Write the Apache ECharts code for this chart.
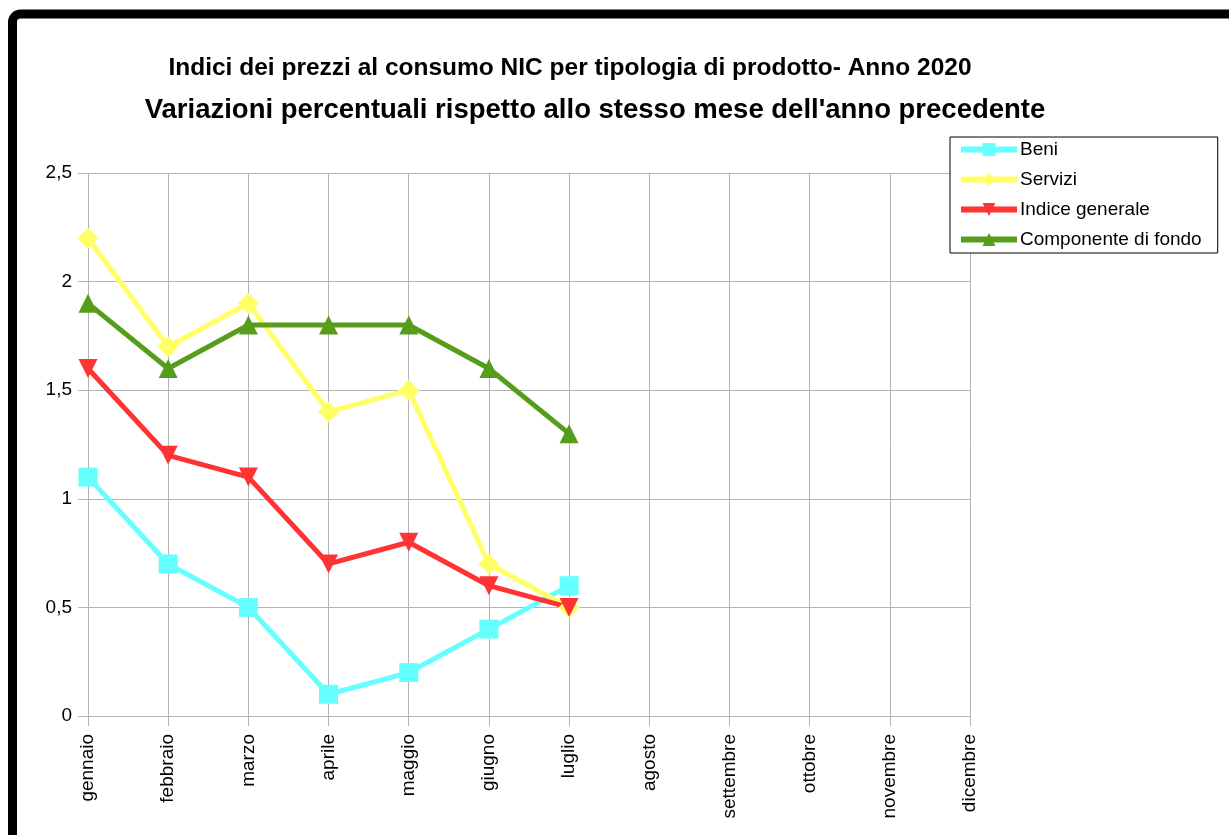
<!DOCTYPE html>
<html>
<head>
<meta charset="utf-8">
<script src="https://cdn.jsdelivr.net/npm/echarts@6/dist/echarts.min.js"></script>
<style>
  html, body { margin: 0; padding: 0; background: #fff; }
  #main { width: 1229px; height: 835px; }
</style>
</head>
<body>
<div id="main"></div>
<script>
var chartDom = document.getElementById('main');
var myChart = echarts.init(chartDom);
var option;

const months = ['gennaio', 'febbraio', 'marzo', 'aprile', 'maggio', 'giugno',
  'luglio', 'agosto', 'settembre', 'ottobre', 'novembre', 'dicembre'];
const beni = [1.1, 0.7, 0.5, 0.1, 0.2, 0.4, 0.6];
const servizi = [2.2, 1.7, 1.9, 1.4, 1.5, 0.7, 0.5];
const indiceGenerale = [1.6, 1.2, 1.1, 0.7, 0.8, 0.6, 0.5];
const componenteFondo = [1.9, 1.6, 1.8, 1.8, 1.8, 1.6, 1.3];

const FONT = '"Liberation Sans", Arial, sans-serif';

function lineSeries(name, data, color, symbol, size) {
  return {
    name: name,
    type: 'line',
    data: data,
    symbol: symbol,
    symbolSize: size,
    showAllSymbol: true,
    lineStyle: { width: 5, color: color },
    itemStyle: { color: color },
    emphasis: { disabled: true },
    z: 3
  };
}

option = {
  backgroundColor: '#fff',
  animation: false,
  textStyle: { fontFamily: FONT },
  graphic: [
    {
      type: 'rect',
      shape: { x: 12.5, y: 14, width: 1400, height: 1000, r: 8 },
      style: { fill: 'none', stroke: '#000', lineWidth: 9 },
      z: 100
    }
  ],
  title: [
    {
      text: 'Indici dei prezzi al consumo NIC per tipologia di prodotto- Anno 2020',
      left: 565,
      top: 51,
      textAlign: 'center',
      textStyle: { fontFamily: FONT, fontSize: 24.5, fontWeight: 'bold', color: '#000' }
    },
    {
      text: "Variazioni percentuali rispetto allo stesso mese dell'anno precedente",
      left: 590,
      top: 91,
      textAlign: 'center',
      textStyle: { fontFamily: FONT, fontSize: 27.5, fontWeight: 'bold', color: '#000' }
    }
  ],
  legend: {
    orient: 'vertical',
    left: 950,
    top: 137,
    padding: [3, 16, 4, 8],
    itemWidth: 56,
    itemHeight: 16,
    itemGap: 11,
    borderColor: '#000',
    borderWidth: 1,
    backgroundColor: '#fff',
    lineStyle: { width: 6 },
    textStyle: { fontFamily: FONT, fontSize: 19, color: '#000', padding: [0, 0, 0, -2] },
    data: ['Beni', 'Servizi', 'Indice generale', 'Componente di fondo']
  },
  grid: {
    left: 88,
    right: 259,
    top: 173,
    bottom: 119
  },
  xAxis: {
    type: 'category',
    data: months,
    boundaryGap: false,
    axisLine: { lineStyle: { color: '#b3b3b3', width: 1 } },
    axisTick: { show: true, length: 10, alignWithLabel: true, lineStyle: { color: '#b3b3b3' } },
    splitLine: { show: true, lineStyle: { color: '#b3b3b3', width: 1 } },
    axisLabel: {
      rotate: 90,
      interval: 0,
      margin: 18,
      fontSize: 19,
      fontFamily: FONT,
      color: '#000'
    }
  },
  yAxis: {
    type: 'value',
    min: 0,
    max: 2.5,
    interval: 0.5,
    axisLine: { show: false },
    axisTick: { show: true, length: 10, lineStyle: { color: '#b3b3b3' } },
    splitLine: { lineStyle: { color: '#b3b3b3', width: 1 } },
    axisLabel: {
      margin: 16,
      fontSize: 19,
      fontFamily: FONT,
      color: '#000',
      formatter: function (v) {
        return String(v).replace('.', ',');
      }
    }
  },
  series: [
    lineSeries('Beni', beni, '#66ffff', 'rect', 19),
    lineSeries('Servizi', servizi, '#ffff66', 'diamond', 21),
    lineSeries('Indice generale', indiceGenerale, '#ff3333', 'path://M0,0 L10,0 L5,9 Z', 19),
    lineSeries('Componente di fondo', componenteFondo, '#579d1c', 'triangle', 19)
  ]
};

option && myChart.setOption(option);
</script>
</body>
</html>
